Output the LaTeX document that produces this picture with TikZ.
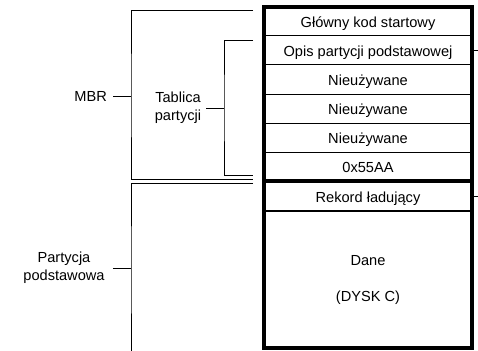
\documentclass[tikz,border=0pt]{standalone}
\usepackage{fontspec}
\setmainfont{Liberation Sans}
\usetikzlibrary{positioning}
\tikzset{
  x=1pt, y=-1pt,
  txt/.style={font=\fontsize{14.6}{18}\selectfont},
  row/.style={txt, draw, line width=1pt, minimum width=208pt, minimum height=29pt, inner sep=0pt, outer sep=0pt},
  cell/.style={row, text height=12pt, text depth=0pt},
  lab/.style={txt, align=center, inner sep=0pt},
  brace/.style={line width=1pt},
  frame/.style={line width=3.8pt}
}

\begin{document}
\begin{tikzpicture}
    \useasboundingbox (0,0) rectangle (478,350);
    \clip (0,0) rectangle (478,350);
    % the disk layout
    \node[cell] (gkod) at (368,21.5) {Główny kod startowy};
    \node[cell, below=0pt of gkod] (opis) {Opis partycji podstawowej};
    \foreach \n/\p in {nie1/opis, nie2/nie1, nie3/nie2}
      \node[cell, below=0pt of \p] (\n) {Nieużywane};
    \node[cell, below=0pt of nie3] (sygn) {0x55AA};
    \node[cell, below=0pt of sygn, minimum height=30pt] (rekord) {Rekord ładujący};
    \node[row, below=0pt of rekord, minimum height=137pt, align=center] (dane) {Dane\\[18pt](DYSK C)};
    % thick borders
    \draw[frame] (gkod.north west) rectangle (dane.south east);
    \draw[frame] (sygn.south west) -- (sygn.south east);
    \draw[line width=2.2pt] (rekord.south west) -- (rekord.south east);
    \draw[brace] (opis.east) -- ++(8,0);
    \draw[brace] (rekord.east) -- ++(8,0);
    % labels
    \node[lab, anchor=east] (mbr) at (107,96) {MBR};
    \node[lab] (tablica) at (178,108) {Tablica\\partycji};
    \node[lab] (partycja) at (64,268) {Partycja\\podstawowa};
    % brackets
    \coordinate (mbrtop) at (253,11);
    \coordinate (mbrmid) at (131,96);
    \coordinate (mbrbot) at (253,179);
    \coordinate (tabtop) at (253,41);
    \coordinate (tabmid) at (224,108);
    \coordinate (tabbot) at (253,175);
    \coordinate (parttop) at (253,183);
    \coordinate (partmid) at (131,268);
    \coordinate (partbot) at (131,360);
    \draw[brace] (mbrtop) -| (mbrmid) |- (mbrbot);
    \draw[brace] ([xshift=6pt]mbr.east) -- (mbrmid);
    \draw[brace] (tabtop) -| (tabmid) |- (tabbot);
    \draw[brace] ([xshift=5pt]tablica.east) -- (tabmid);
    \draw[brace] (parttop) -| (partmid) -- (partbot);
    \draw[brace] ([xshift=8pt]partycja.east) -- (partmid);
\end{tikzpicture}
\end{document}
